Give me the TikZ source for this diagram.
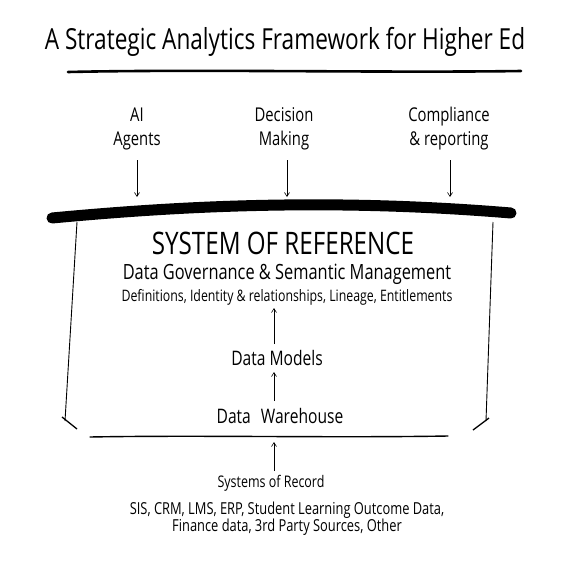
\documentclass[tikz,border=0pt]{standalone}
\usepackage{fontspec}
\setmainfont{Open Sans}
\newfontfamily\hand[FakeStretch=0.78]{Open Sans}
\usetikzlibrary{arrows.meta}
\tikzset{
  txt/.style={font=\hand, inner sep=0pt, align=center, text=black},
  arr/.style={-{Straight Barb[length=4pt,width=5pt]}, line width=0.6pt},
  side/.style={line width=0.9pt},
  tick/.style={line width=1.3pt},
}
\begin{document}
\begin{tikzpicture}[x=1pt,y=-1pt]
\useasboundingbox[fill=white] (0,0) rectangle (579,579);
% title
\node[txt, font=\hand\fontsize{29}{32}\selectfont] (title) at (285,42) {A Strategic Analytics Framework for Higher Ed};
\draw[line width=2.6pt, line cap=round] (68,72) .. controls (200,69) and (380,73) .. (521,71);
% top labels
\node[txt, font=\hand\fontsize{19}{24}\selectfont] (ai) at (137,129) {AI\\Agents};
\node[txt, font=\hand\fontsize{19}{24}\selectfont] (dm) at (284,129) {Decision\\Making};
\node[txt, font=\hand\fontsize{19}{24}\selectfont] (cr) at (449,129) {Compliance\\\& reporting};
\coordinate (aib) at (137,197);
\coordinate (dmb) at (287,197);
\coordinate (crb) at (450,197);
\draw[arr] (137,160) -- (aib);
\draw[arr] (287,160) -- (dmb);
\draw[arr] (450,160) -- (crb);
% thick bar
\draw[line width=11pt, line cap=round] (52,218) .. controls (180,206) and (330,198) .. (511,213);
% side lines
\draw[side] (77,222) -- (65,421);
\draw[tick] (62,417) -- (77,429);
\draw[side] (493,222) -- (486,421);
\draw[tick] (473,430) -- (489,418);
% center texts
\node[txt, font=\hand\fontsize{31}{34}\selectfont] (sor) at (283,243) {SYSTEM OF REFERENCE};
\node[txt, font=\hand\fontsize{21}{24}\selectfont] (dg) at (287,274) {Data Governance \& Semantic Management};
\node[txt, font=\hand\fontsize{15.8}{18}\selectfont] (defs) at (287,297) {Definitions, Identity \& relationships, Lineage, Entitlements};
\node[txt, font=\hand\fontsize{20}{24}\selectfont] (models) at (277,358) {Data Models};
\node[txt, font=\hand\fontsize{20}{24}\selectfont] (dw) at (280,416) {Data\enspace Warehouse};
\draw[arr] (274,344) -- (274,308);
\draw[arr] (274,401) -- (274,372);
% base line
\draw[line width=1.4pt, line cap=round] (90,437) .. controls (200,435) and (330,438) .. (448,436);
\draw[arr] (274,471) -- (274,442);
% bottom texts
\node[txt, font=\hand\fontsize{16}{18}\selectfont] (sr) at (271,483) {Systems of Record};
\node[txt, font=\hand\fontsize{16.5}{17}\selectfont] (list) at (287,519) {SIS, CRM, LMS, ERP, Student Learning Outcome Data,\\Finance data, 3rd Party Sources, Other};
\end{tikzpicture}
\end{document}
